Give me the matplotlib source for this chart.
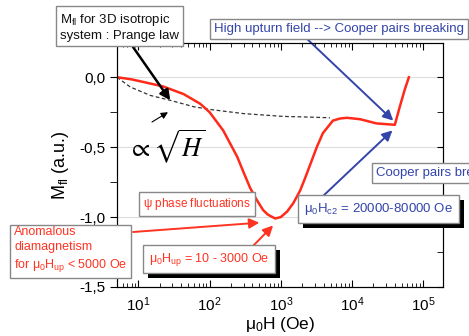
import matplotlib
matplotlib.use("Agg")
import matplotlib.pyplot as plt
from matplotlib.patches import Rectangle
from matplotlib.ticker import FixedLocator, LogLocator, NullFormatter, FuncFormatter

plt.rcParams['font.family'] = ['Liberation Sans', 'DejaVu Sans']
plt.rcParams['mathtext.fontset'] = 'custom'
plt.rcParams['mathtext.rm'] = 'Liberation Sans'
plt.rcParams['mathtext.it'] = 'Liberation Sans'

# measured M_fl curve (red)
field = [5, 8, 12, 22, 43, 74, 100, 155, 245, 300, 370, 450, 565, 650, 700, 835,
         1000, 1230, 1500, 1870, 2200, 2700, 3200, 3900, 5400, 6800, 8500, 13000,
         22000, 40000, 47000, 55000, 63000]
m_fl = [0.0, -0.015, -0.035, -0.065, -0.12, -0.19, -0.25, -0.38, -0.57, -0.68,
        -0.79, -0.87, -0.95, -0.98, -0.99, -1.01, -1.0, -0.96, -0.90, -0.81,
        -0.72, -0.60, -0.50, -0.40, -0.31, -0.295, -0.29, -0.30, -0.33, -0.34,
        -0.21, -0.09, 0.0]

# Prange law sqrt(H) (dashed)
prange_x = [5, 7.7, 14.7, 28, 59, 100, 300, 1080, 2600, 4900]
prange_y = [0.0, -0.07, -0.13, -0.165, -0.21, -0.23, -0.26, -0.28, -0.285, -0.29]

y_major = [0.0, -0.5, -1.0, -1.5]
y_minor = [0.25, -0.25, -0.75, -1.25]

W, H = 469, 336
fig = plt.figure(figsize=(W / 100, H / 100), dpi=100)
ax = fig.add_axes([117 / W, 1 - 287 / H, (443 - 117) / W, (287 - 43) / H])


def px(x, y):
    return x / W, 1 - y / H


ax.plot(prange_x, prange_y, color='#333333', lw=0.9, ls=(0, (3, 2)))
ax.plot(field, m_fl, color='#ff2a1a', lw=1.8)

ax.set_xscale('log')
ax.set_xlim(5, 1.9e5)
ax.set_ylim(-1.5, 0.245)
ax.yaxis.set_major_locator(FixedLocator(y_major))
ax.yaxis.set_minor_locator(FixedLocator(y_minor))
ax.yaxis.set_major_formatter(FuncFormatter(lambda v, p: f"{v:.1f}".replace('.', ',')))
ax.xaxis.set_major_locator(LogLocator(base=10, numticks=10))
ax.xaxis.set_minor_locator(LogLocator(base=10, subs=range(2, 10), numticks=20))
ax.xaxis.set_minor_formatter(NullFormatter())
ax.grid(axis='y', which='major', color='#dddddd', lw=0.8)
ax.set_axisbelow(True)

ax.tick_params(axis='x', which='both', direction='in', top=True, labelsize=11, pad=6)
ax.tick_params(axis='x', which='major', length=5)
ax.tick_params(axis='x', which='minor', length=3)
ax.tick_params(axis='y', which='both', direction='out', length=5, labelsize=11)
for sp in ax.spines.values():
    sp.set_color('#333333')

# right axis ticks point inward
ax2 = ax.twinx()
ax2.set_ylim(ax.get_ylim())
ax2.yaxis.set_major_locator(FixedLocator(y_major))
ax2.yaxis.set_minor_locator(FixedLocator(y_minor))
ax2.tick_params(axis='y', which='both', direction='in', length=4, labelright=False)

ax.set_xlabel(r'$\mu_0$H (Oe)', fontsize=12.5, labelpad=1)
ax.set_ylabel(r'M$_{fl}$ (a.u.)', fontsize=13, labelpad=6)

ax.text(10 ** 1.4, -0.5, r'$\propto\sqrt{H}$', fontsize=19, ha='center', va='center',
        math_fontfamily='stix')

gray_box = dict(boxstyle='square,pad=0.3', fc='white', ec='#888888', lw=1.0)
red = '#ff3322'
blue = '#3344aa'

fig.text(*px(60, 27), 'M$_{fl}$ for 3D isotropic\nsystem : Prange law', fontsize=9.5,
         ha='left', va='center', color='#111111', linespacing=1.3, bbox=gray_box)
fig.text(*px(214, 29), 'High upturn field --> Cooper pairs breaking', fontsize=9.5,
         ha='left', va='center', color=blue, bbox=gray_box)
fig.text(*px(376, 173), 'Cooper pairs breaking', fontsize=9.5,
         ha='left', va='center', color=blue, bbox=gray_box)
fig.text(*px(143, 204), r'$\psi$ phase fluctuations', fontsize=8.5,
         ha='left', va='center', color=red, bbox=gray_box)
fig.text(*px(14, 250), 'Anomalous\ndiamagnetism\nfor $\\mu_0$H$_{up}$ < 5000 Oe', fontsize=9,
         ha='left', va='center', color=red, linespacing=1.4, bbox=gray_box)

# boxes with black drop shadow
shadowed = []
for (x, y, s, c, fs) in [(149, 259, r'$\mu_0$H$_{up}$ = 10 - 3000 Oe', red, 9),
                         (304, 209, r'$\mu_0$H$_{c2}$ = 20000-80000 Oe', blue, 9.5)]:
    t = fig.text(*px(x, y), s, fontsize=fs, ha='left', va='center', color=c, zorder=5,
                 bbox=dict(boxstyle='square,pad=0.45', fc='white', ec='#888888', lw=1.0))
    shadowed.append(t)

fig.canvas.draw()
for t in shadowed:
    bb = t.get_bbox_patch().get_window_extent()
    fig.patches.append(Rectangle((bb.x0 + 5, bb.y0 - 5), bb.width, bb.height,
                                 transform=None, fc='black', ec='none', zorder=4,
                                 figure=fig))


# arrows
def arrow(start, tip_data, color, lw, head=6):
    ax.annotate('', xy=tip_data, xycoords='data', xytext=px(*start),
                textcoords='figure fraction',
                arrowprops=dict(arrowstyle=f'-|>,head_length={head / 10},head_width={head / 20}',
                                color=color, lw=lw, shrinkA=0, shrinkB=0))


arrow((133, 47), (28, -0.165), 'black', 1.8)
arrow((152, 122), (26, -0.25), 'black', 0.8, head=4)
arrow((305, 37), (38000, -0.31), blue, 1.4)
arrow((322, 197), (37000, -0.38), blue, 1.4)
arrow((133, 232), (500, -1.04), red, 1.4)
arrow((253, 246), (780, -1.06), red, 1.4)

fig.savefig('out.png', dpi=100)
